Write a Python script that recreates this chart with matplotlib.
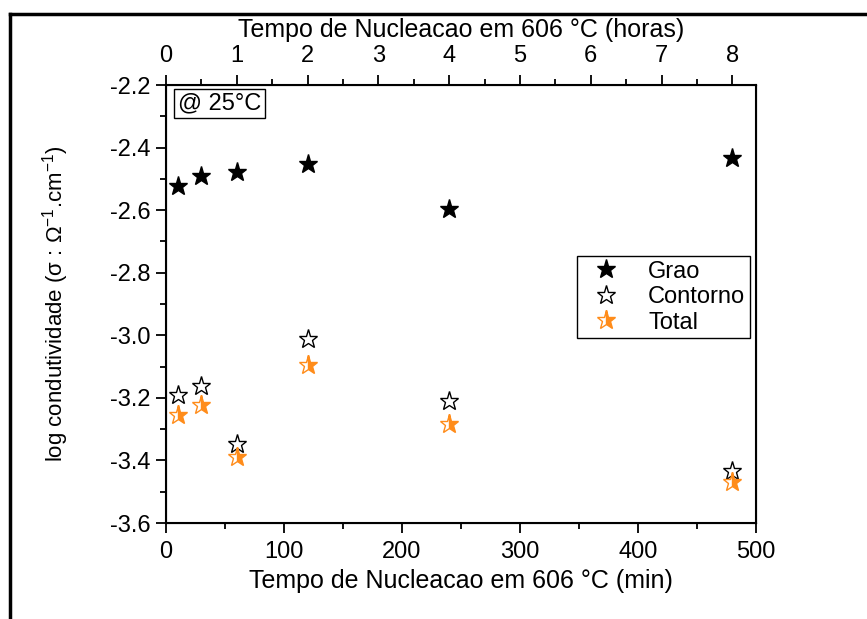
import matplotlib
matplotlib.use("Agg")
import matplotlib.pyplot as plt
from matplotlib.lines import Line2D
from matplotlib.ticker import MultipleLocator

plt.rcParams['font.family'] = ['Liberation Sans', 'DejaVu Sans']
plt.rcParams['mathtext.fontset'] = 'custom'
plt.rcParams['mathtext.rm'] = 'Liberation Sans'

# data
tempo_min = [10, 30, 60, 120, 240, 480]
grao = [-2.523, -2.491, -2.478, -2.453, -2.596, -2.433]
contorno = [-3.191, -3.162, -3.347, -3.012, -3.210, -3.434]
total = [-3.255, -3.223, -3.389, -3.095, -3.284, -3.469]

orange = '#ff8c1a'

fig = plt.figure(figsize=(8.67, 6.19), dpi=100)
ax = fig.add_axes([0.1915, 0.155, 0.6805, 0.7076])

ax.plot(tempo_min, grao, ls='none', marker='*', ms=14, color='black', label='Grao')
ax.plot(tempo_min, contorno, ls='none', marker='*', ms=14, mfc='white', mec='black',
        mew=1, label='Contorno')
ax.plot(tempo_min, total, ls='none', marker='*', ms=14, color=orange, mec=orange,
        fillstyle='right', mfcalt='white', mew=1, label='Total')

ax.set_xlim(0, 500)
ax.set_ylim(-3.6, -2.2)
ax.xaxis.set_major_locator(MultipleLocator(100))
ax.xaxis.set_minor_locator(MultipleLocator(50))
ax.yaxis.set_major_locator(MultipleLocator(0.2))
ax.yaxis.set_minor_locator(MultipleLocator(0.1))
ax.yaxis.set_major_formatter(matplotlib.ticker.FormatStrFormatter('%.1f'))
ax.tick_params(which='major', direction='out', length=7, width=1.3, labelsize=17, pad=4)
ax.tick_params(axis='x', which='major', pad=6)
ax.tick_params(which='minor', direction='out', length=4, width=1.3)
ax.tick_params(axis='x', top=False)
for s in ax.spines.values():
    s.set_linewidth(1.5)

ax.set_xlabel('Tempo de Nucleacao em 606 °C (min)', fontsize=18, labelpad=4)
ax.set_ylabel(r'log condutividade (σ : Ω$^{\mathregular{-1}}$.cm$^{\mathregular{-1}}$)',
              fontsize=16, labelpad=28)

ax2 = ax.twiny()
ax2.set_xlim(0, 500 / 60)
ax2.xaxis.set_major_locator(MultipleLocator(1))
ax2.xaxis.set_minor_locator(MultipleLocator(0.5))
ax2.tick_params(which='major', direction='out', length=7, width=1.3, labelsize=17, pad=6)
ax2.tick_params(which='minor', direction='out', length=4, width=1.3)
ax2.set_xlabel('Tempo de Nucleacao em 606 °C (horas)', fontsize=18, labelpad=6)

ax.text(0.02, 0.984, '@ 25°C', transform=ax.transAxes, fontsize=17, va='top', ha='left',
        bbox=dict(boxstyle='square,pad=0.15', fc='white', ec='black', lw=1))

leg = ax.legend(loc='upper left', bbox_to_anchor=(0.697, 0.61), borderaxespad=0,
                fontsize=17, fancybox=False, edgecolor='black', framealpha=1,
                handletextpad=0.8, labelspacing=0.15, borderpad=0.2)
leg.get_frame().set_linewidth(1)

# outer frame lines (left and top)
fig.add_artist(Line2D([10 / 867, 10 / 867], [0, 1 - 14 / 619], color='black', lw=2.5,
                      transform=fig.transFigure))
fig.add_artist(Line2D([10 / 867, 1], [1 - 14 / 619, 1 - 14 / 619], color='black', lw=2.5,
                      transform=fig.transFigure))

fig.savefig('out.png', dpi=100)
